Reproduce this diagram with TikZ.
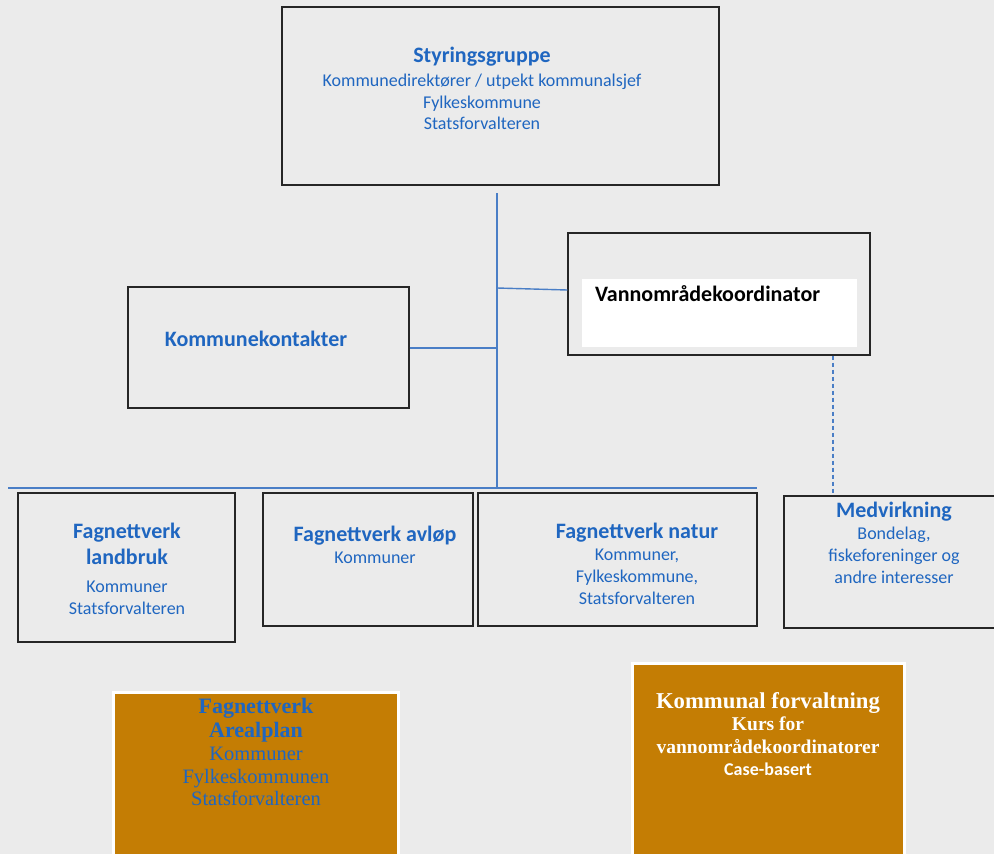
\documentclass[tikz,border=0pt]{standalone}
\usepackage{fontspec}
\setmainfont{Carlito}
\newfontfamily\serifx{Liberation Serif}
\definecolor{bg}{RGB}{235,235,235}
\definecolor{tblue}{RGB}{31,102,192}
\definecolor{lblue}{RGB}{74,126,198}
\definecolor{gold}{RGB}{196,125,4}
\newcommand{\hd}[1]{{\fontsize{22}{25}\selectfont\bfseries #1}}
\newcommand{\shd}[1]{{\fontsize{22}{25}\selectfont\serifx\bfseries #1}}
\begin{document}
\begin{tikzpicture}[x=1pt,y=-1pt,
  box/.style={draw=black!85,line width=1.3pt,rectangle,inner sep=0pt},
  goldbox/.style={draw=white,line width=3pt,fill=gold,rectangle,inner sep=0pt},
  txt/.style={inner sep=0pt,align=center,text=tblue,font=\fontsize{18}{21.8}\selectfont},
  stxt/.style={inner sep=0pt,align=center,text=tblue,font=\fontsize{20.5}{22.5}\selectfont\serifx},
  conn/.style={draw=lblue,line width=1.4pt},
  dconn/.style={draw=lblue,line width=1.4pt,dash pattern=on 4pt off 3pt}]
\fill[bg] (0,0) rectangle (994,854);
\useasboundingbox (0,0) rectangle (994,854);
\clip (0,0) rectangle (994,854);
% boxes
\node[box,minimum width=437,minimum height=178] (sty) at (500.5,96) {};
\node[box,minimum width=281,minimum height=121] (kk) at (268.5,347.5) {};
\node[box,minimum width=302,minimum height=122] (vk) at (719,294) {};
\node[fill=white,inner sep=0pt,minimum width=275,minimum height=68] (vkin) at (719.5,313) {};
\node[box,minimum width=217,minimum height=149] (fl) at (126.5,567.5) {};
\node[box,minimum width=210,minimum height=133] (fa) at (368,559.5) {};
\node[box,minimum width=279,minimum height=133] (fn) at (617.5,559.5) {};
\node[box,minimum width=216,minimum height=132] (med) at (892,562) {};
\node[goldbox,minimum width=285,minimum height=178] (ap) at (255.5,781) {};
\node[goldbox,minimum width=272,minimum height=207] (kf) at (768,766.5) {};
% connectors
\coordinate (vtop) at (497,193);
\coordinate (vbot) at (497,488);
\coordinate (hl) at (8,488);
\coordinate (hr) at (757,488);
\coordinate (j1) at (497,288);
\coordinate (dx) at (833,0);
\draw[conn] (vtop) -- (vbot);
\draw[conn] (hl) -- (hr);
\draw[conn] ([yshift=-0.5pt]kk.east) -- ([yshift=-0.5pt]kk.east -| vbot);
\draw[conn] (j1) -- ([yshift=4pt]vk.west);
\draw[dconn] (vk.south -| dx) -- ([yshift=2pt]med.north -| dx);
% texts
\node[txt] (t1) at (482,88.5) {\hd{Styringsgruppe}\\[2pt]Kommunedirektører / utpekt kommunalsjef\\Fylkeskommune\\Statsforvalteren};
\node[txt] (t2) at (256,339) {\hd{Kommunekontakter}};
\node[inner sep=0pt,anchor=west,font=\fontsize{22}{25}\selectfont\bfseries] (t3) at (595,294) {Vannområdekoordinator};
\node[txt] (t4) at (127,569) {\hd{Fagnettverk}\\[4pt]\hd{landbruk}\\[6pt]Kommuner\\Statsforvalteren};
\node[txt] (t5) at (375,545) {\hd{Fagnettverk avløp}\\Kommuner};
\node[txt] (t6) at (637,564) {\hd{Fagnettverk natur}\\Kommuner,\\Fylkeskommune,\\Statsforvalteren};
\node[txt] (t7) at (894,543) {\hd{Medvirkning}\\Bondelag,\\fiskeforeninger og\\andre interesser};
\node[stxt] (t8) at (256,752) {\shd{Fagnettverk}\\[1.5pt]\shd{Arealplan}\\[1pt]Kommuner\\Fylkeskommunen\\Statsforvalteren};
\node[stxt,text=white] (t9) at (768,734) {{\fontsize{22.7}{25}\selectfont\bfseries Kommunal forvaltning}\\{\fontsize{19.5}{23}\selectfont\bfseries Kurs for}\\{\fontsize{19.5}{23}\selectfont\bfseries vannområdekoordinatorer}\\{\rmfamily\fontsize{18}{21}\selectfont\bfseries Case-basert}};
\end{tikzpicture}
\end{document}
